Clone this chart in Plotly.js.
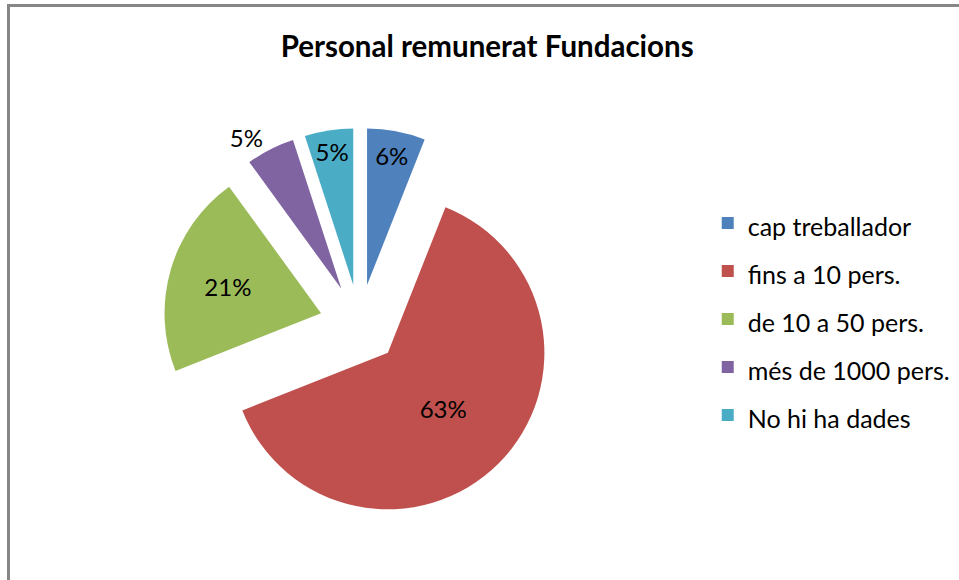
<!DOCTYPE html>
<html>
<head>
<meta charset="utf-8">
<script src="https://cdn.plot.ly/plotly-3.0.1.min.js"></script>
<style>
  html, body { margin: 0; padding: 0; background: #ffffff; }
  #chart { width: 959px; height: 580px; }
</style>
</head>
<body>
<div id="chart"></div>
<script>
// ---- data ----
const categories = ["cap treballador", "fins a 10 pers.", "de 10 a 50 pers.", "més de 1000 pers.", "No hi ha dades"];
const percents = [6, 63, 21, 5, 5];
const sliceColors = ["#4F81BD", "#C0504D", "#9BBB59", "#8064A2", "#4BACC6"];
const labelPositions = ["inside", "inside", "inside", "outside", "inside"];
const chartTitle = "Personal remunerat Fundacions";

// legend labels: same category text, rendered at 25px inside a taller legend row
const legendLabels = categories.map(c => '<span style="font-size:25px">' + c + '</span>');

const trace = {
  type: "pie",
  labels: legendLabels,
  values: percents,
  sort: false,
  direction: "clockwise",
  rotation: 0,
  pull: 0.256,
  marker: { colors: sliceColors, line: { width: 0 } },
  textinfo: "percent",
  texttemplate: "%{percent:.0%}",
  textposition: labelPositions,
  insidetextorientation: "horizontal",
  textfont: { family: "Lato, 'Liberation Sans', sans-serif", size: 24, color: "#000000" },
  domain: { x: [0.1699, 0.5799], y: [0.1016, 0.7795] },
  hoverinfo: "label+percent",
  showlegend: true
};

const layout = {
  width: 959,
  height: 580,
  margin: { l: 0, r: 0, t: 0, b: 0 },
  paper_bgcolor: "#ffffff",
  plot_bgcolor: "#ffffff",
  font: { family: "Lato, 'Liberation Sans', sans-serif", color: "#000000" },
  title: {
    text: chartTitle,
    font: { family: "Lato, 'Liberation Sans', sans-serif", size: 29.5, color: "#000000", weight: "bold" },
    x: 0.508, xanchor: "center",
    y: 0.919, yanchor: "middle",
    xref: "paper", yref: "paper"
  },
  uniformtext: { mode: "show", minsize: 24 },
  legend: {
    x: 0.738, xanchor: "left",
    y: 0.45, yanchor: "middle",
    font: { family: "Lato, 'Liberation Sans', sans-serif", size: 34.6, color: "#000000" },
    bgcolor: "rgba(0,0,0,0)",
    borderwidth: 0
  },
  shapes: [{
    type: "rect", xref: "paper", yref: "paper",
    x0: 8.5 / 959, x1: 1.1, y0: -0.1, y1: 1 - 5.5 / 580,
    line: { color: "#868686", width: 3 },
    fillcolor: "rgba(0,0,0,0)"
  }]
};

Plotly.newPlot("chart", [trace], layout, { displayModeBar: false, staticPlot: true });
</script>
</body>
</html>
